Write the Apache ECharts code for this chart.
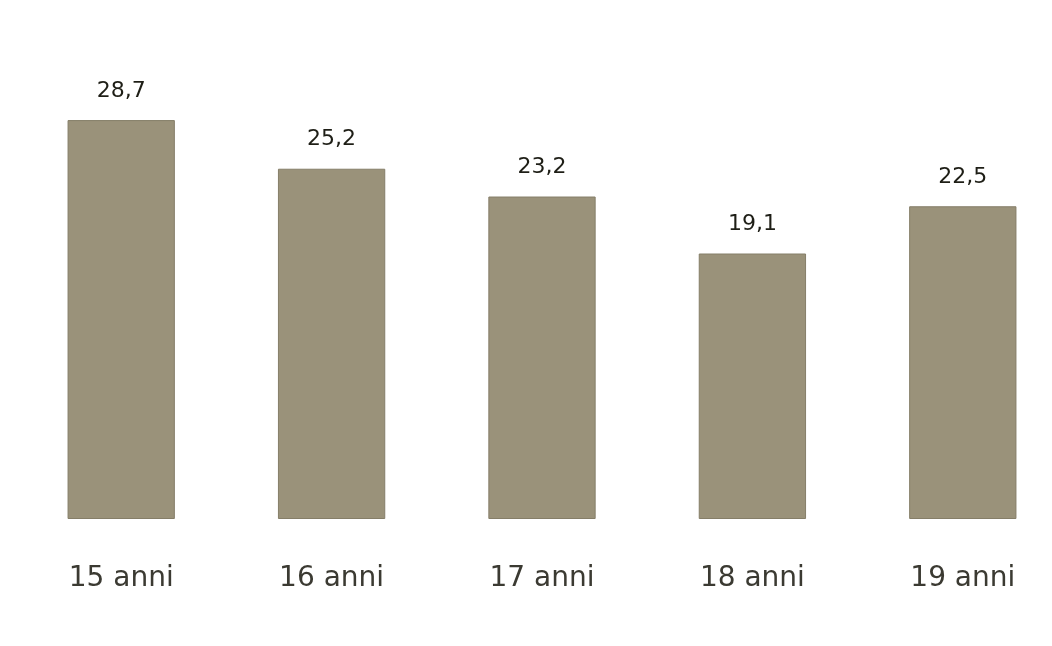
<!DOCTYPE html>
<html>
<head>
<meta charset="utf-8">
<script src="https://cdn.jsdelivr.net/npm/echarts@6/dist/echarts.min.js"></script>
<style>html,body{margin:0;padding:0;background:#fff}#c{width:1052px;height:646px}</style>
</head>
<body>
<div id="c"></div>
<script>
const categories = ['15 anni', '16 anni', '17 anni', '18 anni', '19 anni'];
const values = [28.7, 25.2, 23.2, 19.1, 22.5];

const chart = echarts.init(document.getElementById('c'), null, {renderer: 'canvas'});
chart.setOption({
  backgroundColor: '#ffffff',
  animation: false,
  grid: {left: 16, width: 1052, top: 102, bottom: 127, containLabel: false, outerBoundsMode: 'none'},
  xAxis: {
    type: 'category',
    data: categories,
    axisLine: {show: false},
    axisTick: {show: false},
    axisLabel: {margin: 46, fontSize: 28, color: '#3b3a32', fontFamily: 'DejaVu Sans'}
  },
  yAxis: {
    type: 'value', min: 0, max: 30,
    show: false, splitLine: {show: false}
  },
  series: [{
    type: 'bar',
    data: values,
    barWidth: '51%',
    itemStyle: {color: '#9a927a', borderColor: '#857e68', borderWidth: 1},
    label: {
      show: true, position: 'top', distance: 18,
      fontSize: 22, color: '#1e1e16', fontFamily: 'DejaVu Sans',
      formatter: p => String(p.value).replace('.', ',')
    }
  }]
});
</script>
</body>
</html>
